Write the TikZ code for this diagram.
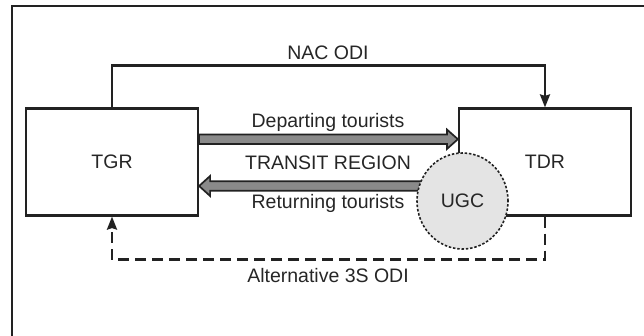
\documentclass[tikz,border=0pt]{standalone}
\usepackage{fontspec}
\setmainfont{Liberation Sans}
\usetikzlibrary{arrows.meta,calc,shapes.geometric}
\definecolor{ink}{HTML}{222222}
\definecolor{txt}{HTML}{262626}
\definecolor{fatgray}{HTML}{8A8A8A}
\definecolor{ugcfill}{HTML}{E4E4E4}
\tikzset{
  region/.style={draw=ink, line width=2.2pt, minimum width=172pt, minimum height=107pt, inner sep=0pt, text=txt, font=\fontsize{19.5}{22}\selectfont},
  lbl/.style={text=txt, font=\fontsize{19.5}{22}\selectfont, inner sep=0pt},
  conn/.style={draw=ink, line width=2.5pt, -{Stealth[length=13pt,width=10pt,inset=1.5pt]}},
  dashconn/.style={conn, dash pattern=on 11pt off 6pt},
  fatarrow/.style={draw=ink, line width=1.7pt, fill=fatgray, line join=miter},
  ugcstyle/.style={ellipse, draw=ink, line width=1.6pt, dash pattern=on 2.5pt off 1.8pt, fill=ugcfill, minimum width=91pt, minimum height=96pt, inner sep=0pt, text=txt, font=\fontsize{19.5}{22}\selectfont}
}
\begin{document}
\begin{tikzpicture}[x=1pt,y=-1pt]
\useasboundingbox (0,0) rectangle (644,335);
% frame
\draw[ink, line width=2pt] (12,340) -- (12,6) -- (650,6);
% regions
\node[region] (TGR) at (112,162) {TGR};
\node[region] (TDR) at (545,162) {TDR};
% NAC ODI
\draw[conn] (TGR.north) -- ++(0,-42) -| (TDR.north);
\node[lbl] (nac) at (328,53) {NAC ODI};
% departing
\draw[fatarrow] ($(TGR.east)+(0,-27.5)$) -- ($(TDR.west)+(-11,-27.5)$) -- ($(TDR.west)+(-11,-32.5)$) -- ($(TDR.west)+(0,-22.8)$) -- ($(TDR.west)+(-11,-13)$) -- ($(TDR.west)+(-11,-18)$) -- ($(TGR.east)+(0,-18)$) -- cycle;
\node[lbl] (dep) at (328,122) {Departing tourists};
\node[lbl] (transit) at (328,163) {TRANSIT REGION};
% returning
\coordinate (rs) at (440,186);
\draw[fatarrow] ($(rs)+(0,-4.8)$) -- ($(TGR.east)+(11,19.2)$) -- ($(TGR.east)+(11,14)$) -- ($(TGR.east)+(0,24)$) -- ($(TGR.east)+(11,34)$) -- ($(TGR.east)+(11,28.8)$) -- ($(rs)+(0,4.8)$) -- cycle;
\node[lbl] (ret) at (328,203) {Returning tourists};
% UGC
\node[ugcstyle] (UGC) at (462.5,201) {UGC};
% alternative
\draw[dashconn] (TDR.south) -- ++(0,43) -| (TGR.south);
\node[lbl] (alt) at (328,276) {Alternative 3S ODI};
\end{tikzpicture}
\end{document}
